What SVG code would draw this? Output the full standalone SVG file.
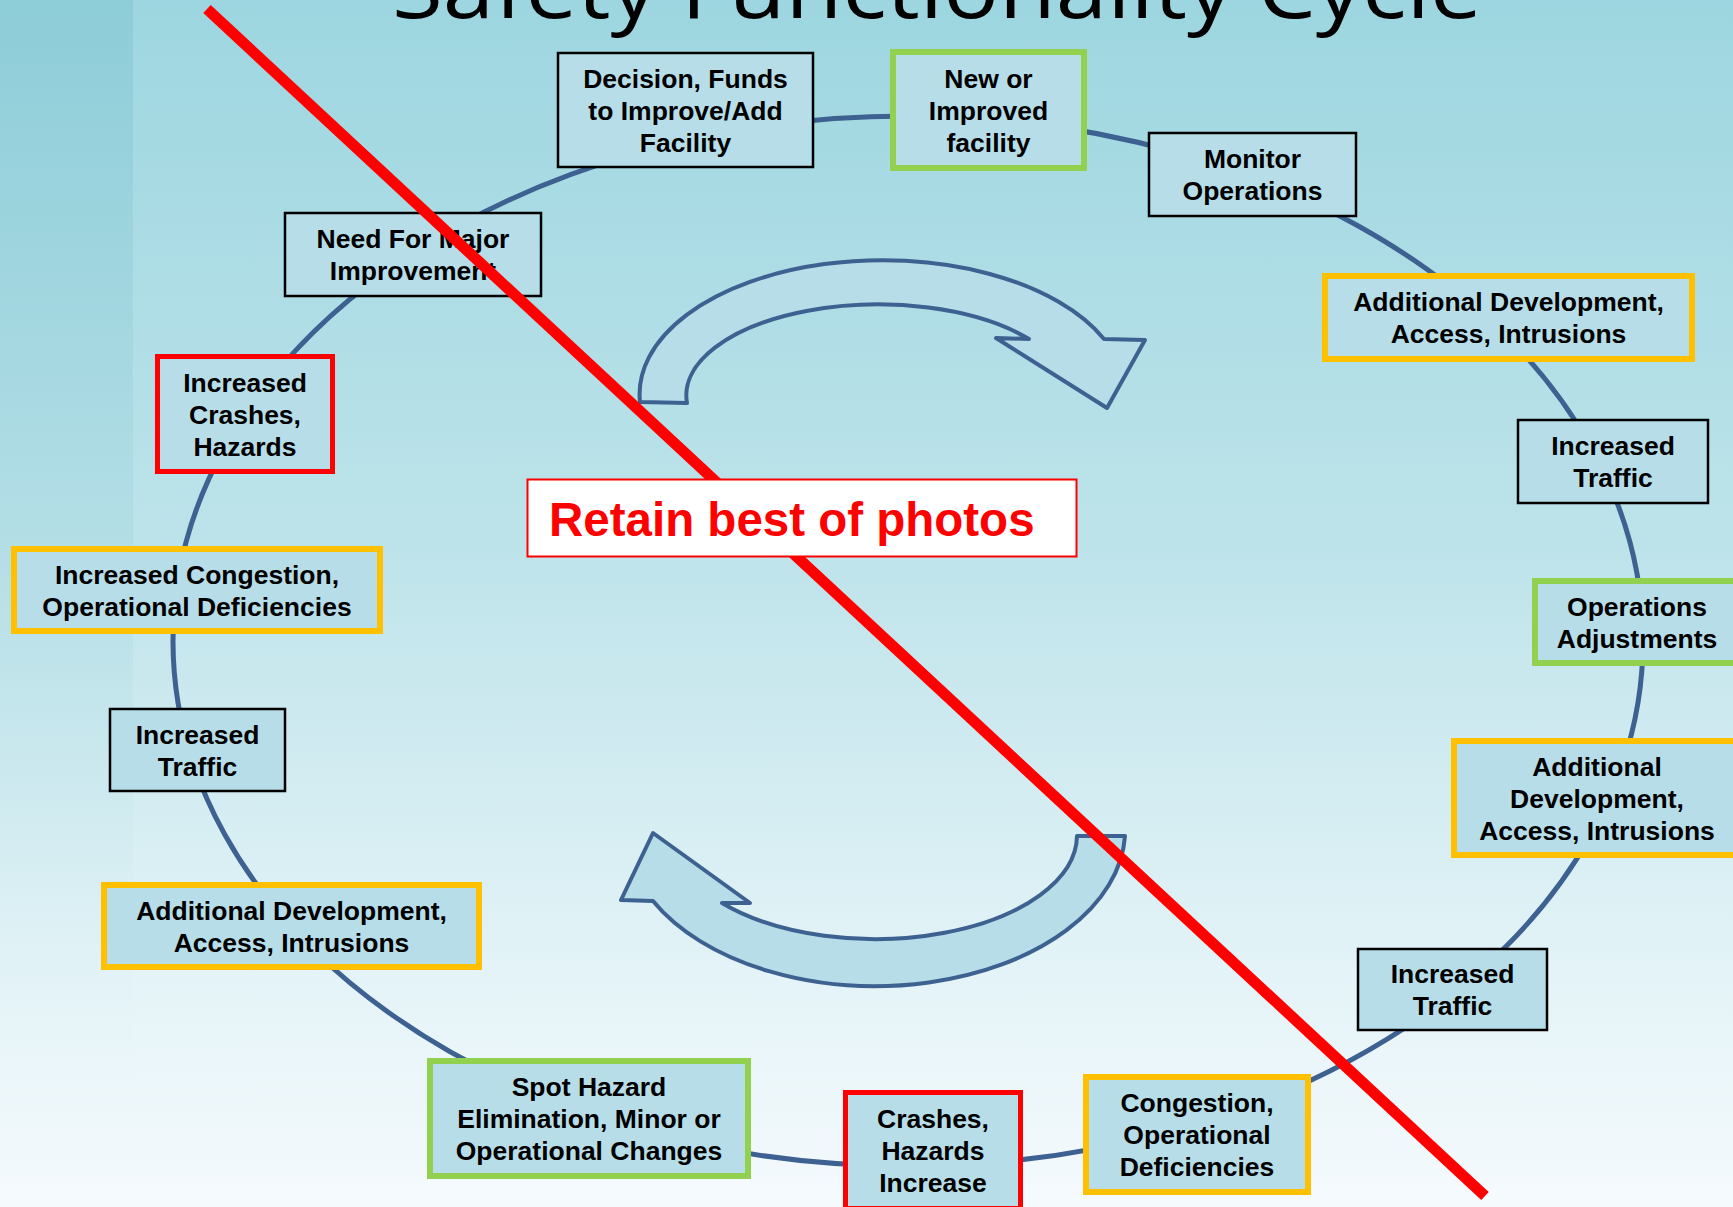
<svg xmlns="http://www.w3.org/2000/svg" width="1733" height="1207" viewBox="0 0 1733 1207">
  <defs>
    <linearGradient id="bg" x1="0" y1="0" x2="0" y2="1">
      <stop offset="0" stop-color="#9DD6E0"/>
      <stop offset="0.45" stop-color="#BDE3EA"/>
      <stop offset="0.8" stop-color="#E3F3F7"/>
      <stop offset="1" stop-color="#F5FAFD"/>
    </linearGradient>
    <linearGradient id="strip" x1="0" y1="0" x2="0" y2="1">
      <stop offset="0" stop-color="#6FBCCA" stop-opacity="0.35"/>
      <stop offset="0.6" stop-color="#8FCBD6" stop-opacity="0.12"/>
      <stop offset="1" stop-color="#FFFFFF" stop-opacity="0"/>
    </linearGradient>
    <style>
      .box { fill: #B7DEE8; }
      .plain { stroke: #000000; stroke-width: 2.5; }
      .orange { stroke: #FFC000; stroke-width: 6; }
      .green { stroke: #92D050; stroke-width: 6; }
      .red { stroke: #FF0000; stroke-width: 5; }
      .lbl { font-family: "Liberation Sans", Arial, sans-serif; font-weight: bold; font-size: 26.5px; fill: #000000; text-anchor: middle; }
      .cycle { fill: none; stroke: #3D6190; stroke-width: 5; }
      .arrow { fill: #B7DDE8; stroke: #3D6190; stroke-width: 4; stroke-linejoin: round; }
    </style>
  </defs>

  <rect x="0" y="0" width="1733" height="1207" fill="url(#bg)"/>
  <rect x="0" y="0" width="133" height="1207" fill="url(#strip)"/>

  <text x="392" y="18" font-family="'Open Sans', 'Noto Sans', sans-serif" font-size="82" fill="#000000" textLength="1090" lengthAdjust="spacingAndGlyphs">Safety Functionality Cycle</text>

  <g id="connectors">
    <ellipse class="cycle" cx="908" cy="641" rx="735" ry="525"/>
  </g>

  <g id="n-decision">
    <rect class="box plain" x="558" y="53" width="255" height="114"/>
    <text class="lbl" x="685.5" y="88">Decision, Funds</text>
    <text class="lbl" x="685.5" y="120">to Improve/Add</text>
    <text class="lbl" x="685.5" y="152">Facility</text>
  </g>
  <g id="n-new">
    <rect class="box green" x="893" y="52" width="191" height="116"/>
    <text class="lbl" x="988.5" y="87.5">New or</text>
    <text class="lbl" x="988.5" y="119.5">Improved</text>
    <text class="lbl" x="988.5" y="151.5">facility</text>
  </g>
  <g id="n-monitor">
    <rect class="box plain" x="1149" y="133" width="207" height="83"/>
    <text class="lbl" x="1252.5" y="168">Monitor</text>
    <text class="lbl" x="1252.5" y="200">Operations</text>
  </g>
  <g id="n-adddev1">
    <rect class="box orange" x="1325" y="276" width="367" height="83"/>
    <text class="lbl" x="1508.5" y="311">Additional Development,</text>
    <text class="lbl" x="1508.5" y="343">Access, Intrusions</text>
  </g>
  <g id="n-traffic1">
    <rect class="box plain" x="1518" y="420" width="190" height="83"/>
    <text class="lbl" x="1613" y="455">Increased</text>
    <text class="lbl" x="1613" y="487">Traffic</text>
  </g>
  <g id="n-opsadj">
    <rect class="box green" x="1535" y="581" width="204" height="82"/>
    <text class="lbl" x="1637" y="615.5">Operations</text>
    <text class="lbl" x="1637" y="647.5">Adjustments</text>
  </g>
  <g id="n-adddev2">
    <rect class="box orange" x="1454" y="741" width="286" height="114"/>
    <text class="lbl" x="1597" y="775.5">Additional</text>
    <text class="lbl" x="1597" y="807.5">Development,</text>
    <text class="lbl" x="1597" y="839.5">Access, Intrusions</text>
  </g>
  <g id="n-traffic2">
    <rect class="box plain" x="1358" y="949" width="189" height="81"/>
    <text class="lbl" x="1452.5" y="983">Increased</text>
    <text class="lbl" x="1452.5" y="1015">Traffic</text>
  </g>
  <g id="n-congestion">
    <rect class="box orange" x="1086" y="1077" width="222" height="115"/>
    <text class="lbl" x="1197" y="1112">Congestion,</text>
    <text class="lbl" x="1197" y="1144">Operational</text>
    <text class="lbl" x="1197" y="1176">Deficiencies</text>
  </g>
  <g id="n-crashes">
    <rect class="box red" x="845.5" y="1092.5" width="175" height="116"/>
    <text class="lbl" x="933" y="1128">Crashes,</text>
    <text class="lbl" x="933" y="1160">Hazards</text>
    <text class="lbl" x="933" y="1192">Increase</text>
  </g>
  <g id="n-spot">
    <rect class="box green" x="430" y="1061" width="318" height="115"/>
    <text class="lbl" x="589" y="1096">Spot Hazard</text>
    <text class="lbl" x="589" y="1128">Elimination, Minor or</text>
    <text class="lbl" x="589" y="1160">Operational Changes</text>
  </g>
  <g id="n-adddev3">
    <rect class="box orange" x="104" y="885" width="375" height="82"/>
    <text class="lbl" x="291.5" y="919.5">Additional Development,</text>
    <text class="lbl" x="291.5" y="951.5">Access, Intrusions</text>
  </g>
  <g id="n-traffic3">
    <rect class="box plain" x="110" y="709" width="175" height="82"/>
    <text class="lbl" x="197.5" y="743.5">Increased</text>
    <text class="lbl" x="197.5" y="775.5">Traffic</text>
  </g>
  <g id="n-inccongestion">
    <rect class="box orange" x="14" y="549" width="366" height="82"/>
    <text class="lbl" x="197" y="583.5">Increased Congestion,</text>
    <text class="lbl" x="197" y="615.5">Operational Deficiencies</text>
  </g>
  <g id="n-inccrashes">
    <rect class="box red" x="157.5" y="356.5" width="175" height="115"/>
    <text class="lbl" x="245" y="391.5">Increased</text>
    <text class="lbl" x="245" y="423.5">Crashes,</text>
    <text class="lbl" x="245" y="455.5">Hazards</text>
  </g>
  <g id="n-need">
    <rect class="box plain" x="285" y="213" width="256" height="83"/>
    <text class="lbl" x="413" y="248">Need For Major</text>
    <text class="lbl" x="413" y="280">Improvement</text>
  </g>

  <g id="arrows">
    <path class="arrow" d="M 640,402 A 243,134 0 0 1 1104,339 L 1145,340 L 1107,408 L 996,338 L 1029,339 A 192,91 0 0 0 687,403 Z"/>
    <path class="arrow" d="M 653,833 L 621,900 L 653,901 A 250,157 0 0 0 1125,836 L 1077,836 A 202,104 0 0 1 722,903 L 750,903 Z"/>
  </g>

  <g id="overlay">
    <line x1="207" y1="9" x2="1485" y2="1196" stroke="#FF0000" stroke-width="11"/>
    <rect x="527.5" y="479.5" width="549" height="77" fill="#FFFFFF" stroke="#FF0000" stroke-width="2"/>
    <text x="549" y="536" font-family="'Liberation Sans', Arial, sans-serif" font-weight="bold" font-size="47.5" fill="#FF0000">Retain best of photos</text>
  </g>
</svg>
